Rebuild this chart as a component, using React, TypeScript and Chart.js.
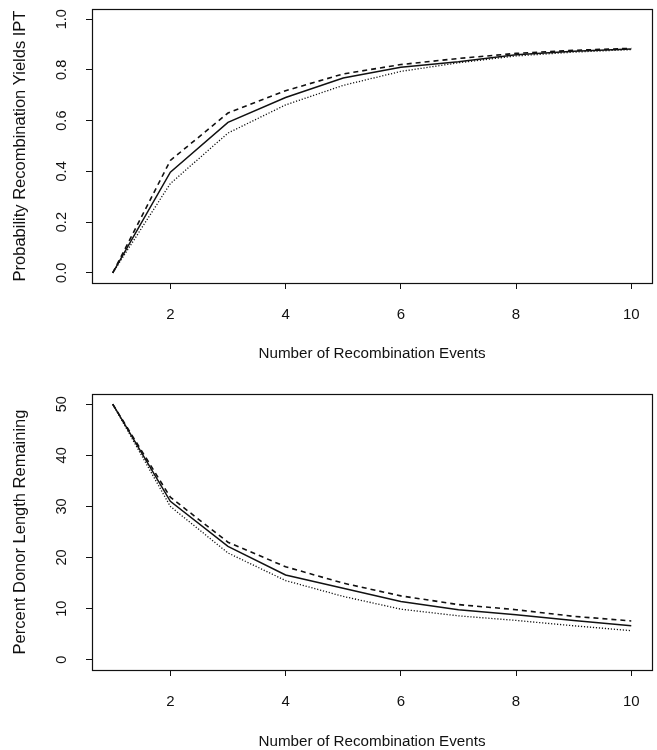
import React, { useEffect, useRef } from "react";
import { Chart, registerables } from "chart.js";

Chart.register(...registerables);

const events = [1, 2, 3, 4, 5, 6, 7, 8, 9, 10];
const xTicks = [2, 4, 6, 8, 10];

const probSolid = [0, 0.397, 0.593, 0.691, 0.768, 0.81, 0.832, 0.86, 0.873, 0.882];
const probDashed = [0, 0.443, 0.63, 0.718, 0.784, 0.821, 0.845, 0.865, 0.877, 0.885];
const probDotted = [0, 0.352, 0.551, 0.662, 0.739, 0.794, 0.828, 0.855, 0.87, 0.88];
const probTicks = [0, 0.2, 0.4, 0.6, 0.8, 1.0];

const donorSolid = [50, 31.0, 22.2, 16.6, 14.0, 11.4, 9.8, 8.8, 7.7, 6.65];
const donorDashed = [50, 31.8, 23.0, 18.2, 15.0, 12.5, 10.8, 9.8, 8.5, 7.6];
const donorDotted = [50, 30.0, 20.9, 15.5, 12.4, 9.9, 8.6, 7.7, 6.65, 5.7];
const donorTicks = [0, 10, 20, 30, 40, 50];

const FONT = "'Liberation Sans', Arial, Helvetica, sans-serif";
const INK = "#111";

const boxPlugin = {
  id: "rbox",
  afterDraw(chart: any) {
    const { ctx, chartArea: a } = chart;
    ctx.save();
    ctx.strokeStyle = INK;
    ctx.lineWidth = 1.2;
    ctx.strokeRect(Math.round(a.left) + 0.5, Math.round(a.top) + 0.5, Math.round(a.right - a.left), Math.round(a.bottom - a.top));
    ctx.restore();
  },
};

function makeSeries(vals: number[]) {
  return events.map((x, i) => ({ x, y: vals[i] }));
}

interface PanelProps {
  height: number;
  solid: number[];
  dashed: number[];
  dotted: number[];
  yTicks: number[];
  yMin: number;
  yMax: number;
  yTitle: string;
  decimals: number;
  areaTop: number;
  xAxisHeight: number;
  xTitlePadBottom: number;
  yTickPad: number;
}

function Panel(p: PanelProps) {
  const ref = useRef<HTMLCanvasElement | null>(null);
  useEffect(() => {
    if (!ref.current) return;
    const line = (vals: number[], dash: number[], w: number) => ({
      data: makeSeries(vals),
      borderColor: INK,
      borderWidth: w,
      borderDash: dash,
      pointRadius: 0,
      tension: 0,
      fill: false,
    });
    const chart = new Chart(ref.current, {
      type: "line",
      data: {
        datasets: [
          line(p.solid, [], 1.5),
          line(p.dashed, [5, 4], 1.6),
          line(p.dotted, [1.2, 1.8], 1.3),
        ],
      },
      options: {
        animation: false,
        responsive: false,
        devicePixelRatio: 1,
        layout: { padding: { left: 0, right: 5, top: p.areaTop, bottom: 0 } },
        plugins: { legend: { display: false }, tooltip: { enabled: false } },
        scales: {
          x: {
            type: "linear",
            min: 0.64,
            max: 10.36,
            afterBuildTicks: (s: any) => {
              s.ticks = xTicks.map((v) => ({ value: v }));
            },
            afterFit: (s: any) => {
              s.height = p.xAxisHeight;
              s.paddingLeft = 0;
              s.paddingRight = 0;
            },
            grid: { drawOnChartArea: false, drawTicks: true, tickLength: 6, tickColor: INK },
            border: { display: false },
            ticks: {
              color: INK,
              font: { family: FONT, size: 15 },
              padding: 17,
              maxRotation: 0,
              minRotation: 0,
              callback: (v: any) => String(v),
            },
            title: {
              display: true,
              text: "Number of Recombination Events",
              color: INK,
              font: { family: FONT, size: 15.2 },
              padding: { top: 0, bottom: p.xTitlePadBottom },
            },
          },
          y: {
            type: "linear",
            min: p.yMin,
            max: p.yMax,
            afterBuildTicks: (s: any) => {
              s.ticks = p.yTicks.map((v) => ({ value: v }));
            },
            afterFit: (s: any) => {
              s.width = 92;
              s.paddingTop = 0;
              s.paddingBottom = 0;
            },
            grid: { drawOnChartArea: false, drawTicks: true, tickLength: 6, tickColor: INK },
            border: { display: false },
            ticks: {
              color: INK,
              font: { family: FONT, size: 14.5 },
              padding: p.yTickPad,
              minRotation: 90,
              maxRotation: 90,
              crossAlign: "center",
              callback: (v: any) => Number(v).toFixed(p.decimals),
            },
            title: {
              display: true,
              text: p.yTitle,
              color: INK,
              font: { family: FONT, size: 16.5 },
              padding: { top: 10.1, bottom: 0 },
            },
          },
        },
      },
      plugins: [boxPlugin],
    } as any);
    return () => chart.destroy();
  }, []);
  return <canvas ref={ref} width={657} height={p.height} style={{ display: "block", width: 657, height: p.height }} />;
}

export default function App() {
  return (
    <div style={{ position: "absolute", left: 0, top: 0, width: 657, height: 750, background: "#fff" }}>
      <Panel
        height={375}
        solid={probSolid}
        dashed={probDashed}
        dotted={probDotted}
        yTicks={probTicks}
        yMin={-0.04}
        yMax={1.04}
        yTitle="Probability Recombination Yields IPT"
        decimals={1}
        areaTop={9}
        xAxisHeight={92}
        xTitlePadBottom={11.9}
        yTickPad={14}
      />
      <Panel
        height={375}
        solid={donorSolid}
        dashed={donorDashed}
        dotted={donorDotted}
        yTicks={donorTicks}
        yMin={-2}
        yMax={52}
        yTitle="Percent Donor Length Remaining"
        decimals={0}
        areaTop={19}
        xAxisHeight={80}
        xTitlePadBottom={-1}
        yTickPad={16}
      />
    </div>
  );
}
